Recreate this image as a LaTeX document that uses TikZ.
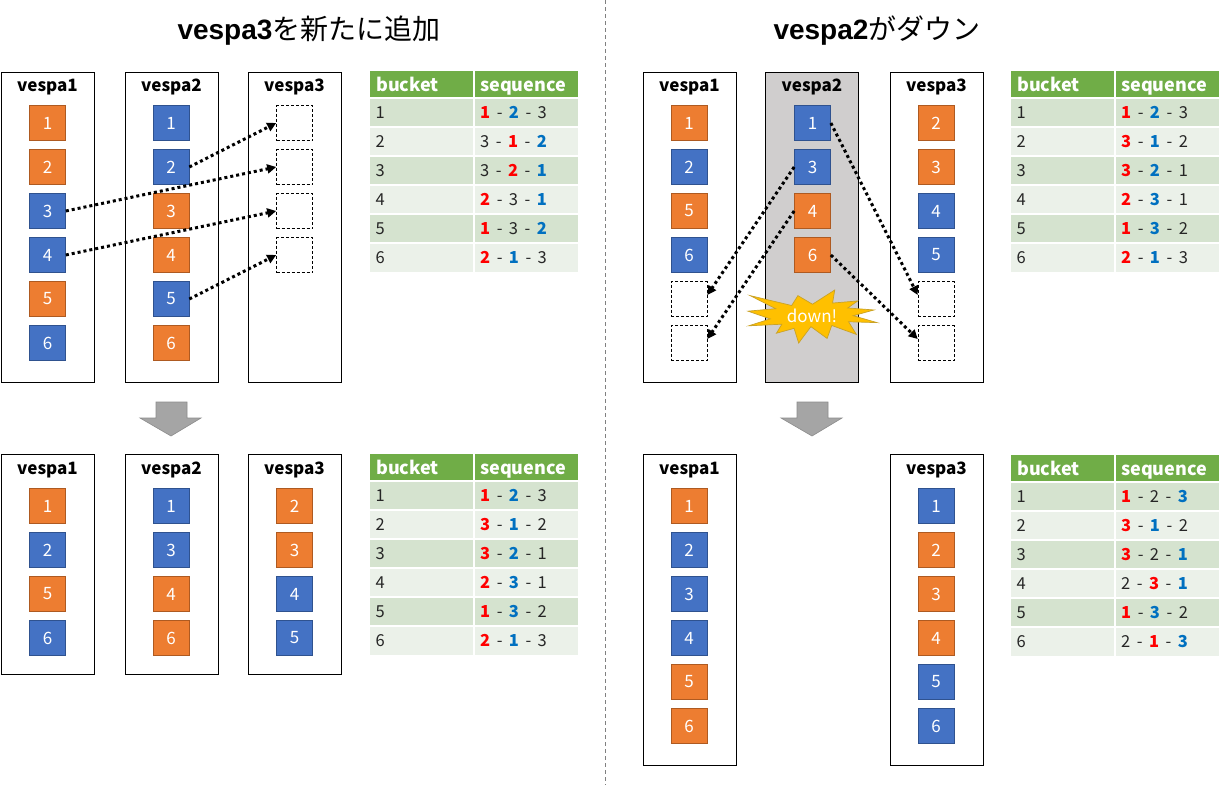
\documentclass[tikz,border=0pt]{standalone}
\usepackage{fontspec}
\setmainfont{Noto Sans CJK JP}
\newfontfamily\latbold{Liberation Sans}
\usetikzlibrary{arrows.meta,calc}
\definecolor{orfill}{HTML}{ED7D31}
\definecolor{ordraw}{HTML}{AE5A21}
\definecolor{blfill}{HTML}{4472C4}
\definecolor{bldraw}{HTML}{2F528F}
\definecolor{hdrgreen}{HTML}{70AD47}
\definecolor{rowdark}{HTML}{D5E3CF}
\definecolor{rowlight}{HTML}{EBF1E9}
\definecolor{seqred}{HTML}{FF0000}
\definecolor{seqblue}{HTML}{0070C0}
\definecolor{txtgray}{HTML}{262626}
\definecolor{downgray}{HTML}{D0CECE}
\definecolor{burstfill}{HTML}{FFC000}
\definecolor{burstdraw}{HTML}{C9A227}
\definecolor{bigarrow}{HTML}{A5A5A5}
\definecolor{bigarrowd}{HTML}{8C8C8C}
\newcommand\RD[1]{{\bfseries\color{seqred}#1}}
\newcommand\BL[1]{{\bfseries\color{seqblue}#1}}
\newcommand\DS{\hspace{6.5pt}-\hspace{6.5pt}}
\tikzset{
 server/.style={draw=black, line width=0.9pt, fill=white, minimum width=93pt, inner sep=0},
 srvlabel/.style={font=\fontsize{17}{17}\selectfont\bfseries, text=black, inner sep=0},
 sq/.style={minimum width=36pt, minimum height=35pt, inner sep=0, line width=0.7pt, text=white, font=\fontsize{17}{17}\selectfont},
 orsq/.style={sq, fill=orfill, draw=ordraw},
 blsq/.style={sq, fill=blfill, draw=bldraw},
 slotsq/.style={sq, fill=white, draw=black, line width=0.6pt, dash pattern=on 3pt off 2pt},
 mv/.style={draw=black, line width=3pt, dash pattern=on 3pt off 3pt, -{Triangle[length=9pt,width=9pt]}},
 hdrtxt/.style={font=\fontsize{18}{18}\selectfont\bfseries, text=white, inner sep=0},
 celltxt/.style={font=\fontsize{16.5}{17}\selectfont, text=txtgray, inner sep=0},
 titletxt/.style={font=\fontsize{28}{28}\selectfont, text=black, inner sep=0},
}
\newcommand\tabrow[4]{%
  \fill[#3] (0,{27+29*(#2-1)}) rectangle (208,{27+29*#2});
  \node[celltxt,anchor=base west] (#1b#2) at (5.5,{27+29*(#2-1)+20.5}) {#2};
  \node[celltxt,anchor=base west] (#1s#2) at (110,{27+29*(#2-1)+20.5}) {#4};}
\newcommand\seqtable[9]{%
 \begin{scope}[shift={(#2,#3)}]
  \fill[hdrgreen] (0,0) rectangle (208,27);
  \node[hdrtxt,anchor=base west] (#1hb) at (6,20) {bucket};
  \node[hdrtxt,anchor=base west] (#1hs) at (110,20) {sequence};
  \tabrow{#1}{1}{rowdark}{#4}
  \tabrow{#1}{2}{rowlight}{#5}
  \tabrow{#1}{3}{rowdark}{#6}
  \tabrow{#1}{4}{rowlight}{#7}
  \tabrow{#1}{5}{rowdark}{#8}
  \tabrow{#1}{6}{rowlight}{#9}
  \draw[white, line width=1.5pt] (104,0) -- (104,201);
  \foreach \k in {1,...,6} \draw[white, line width=1.2pt] (0,{27+29*(\k-1)}) -- (208,{27+29*(\k-1)});
 \end{scope}}
\begin{document}
\begin{tikzpicture}[x=1pt,y=-1pt]
\useasboundingbox (0,0) rectangle (1222,785);
\fill[white] (0,0) rectangle (1222,785);

% divider
\draw[gray, line width=0.8pt, dash pattern=on 4pt off 3pt] (605,0) -- (605,785);

% titles
\node[titletxt] (t1) at (309,31) {{\latbold\bfseries vespa3}を新たに追加};
\node[titletxt] (t2) at (877,31) {{\latbold\bfseries vespa2}がダウン};

% ===== Panel A (top left) =====
\node[server, minimum height=310pt] (A1) at (47.5,227) {};
\node[server, minimum height=310pt] (A2) at (171.5,227) {};
\node[server, minimum height=310pt] (A3) at (294.5,227) {};
\node[srvlabel] (A1l) at (47.5,87) {vespa1};
\node[srvlabel] (A2l) at (171.5,87) {vespa2};
\node[srvlabel] (A3l) at (294.5,87) {vespa3};
\node[orsq] (A1-1) at (47.5,123) {1};
\node[orsq] (A1-2) at (47.5,167) {2};
\node[blsq] (A1-3) at (47.5,211) {3};
\node[blsq] (A1-4) at (47.5,255) {4};
\node[orsq] (A1-5) at (47.5,299) {5};
\node[blsq] (A1-6) at (47.5,343) {6};
\node[blsq] (A2-1) at (171,123) {1};
\node[blsq] (A2-2) at (171,167) {2};
\node[orsq] (A2-3) at (171,211) {3};
\node[orsq] (A2-4) at (171,255) {4};
\node[blsq] (A2-5) at (171,299) {5};
\node[orsq] (A2-6) at (171,343) {6};
\node[slotsq] (A3-1) at (294.5,123) {};
\node[slotsq] (A3-2) at (294.5,167) {};
\node[slotsq] (A3-3) at (294.5,211) {};
\node[slotsq] (A3-4) at (294.5,255) {};
\draw[mv] (A2-2.east) -- (A3-1.west);
\draw[mv] (A1-3.east) -- (A3-2.west);
\draw[mv] (A1-4.east) -- (A3-3.west);
\draw[mv] (A2-5.east) -- (A3-4.west);

\seqtable{T1}{370}{71}{\RD{1}\DS\BL{2}\DS 3}{3\DS\RD{1}\DS\BL{2}}{3\DS\RD{2}\DS\BL{1}}{\RD{2}\DS 3\DS\BL{1}}{\RD{1}\DS 3\DS\BL{2}}{\RD{2}\DS\BL{1}\DS 3}

% big arrows
\filldraw[fill=bigarrow, draw=bigarrowd, line width=0.6pt] (156,402) -- (187,402) -- (187,418) -- (201,418) -- (171,436) -- (140,418) -- (156,418) -- cycle;
\filldraw[fill=bigarrow, draw=bigarrowd, line width=0.6pt] (797,402) -- (828,402) -- (828,418) -- (842,418) -- (812,436) -- (781,418) -- (797,418) -- cycle;

% ===== Panel C (bottom left) =====
\node[server, minimum height=220pt] (C1) at (47.5,564) {};
\node[server, minimum height=220pt] (C2) at (171.5,564) {};
\node[server, minimum height=220pt] (C3) at (294.5,564) {};
\node[srvlabel] (C1l) at (47.5,470) {vespa1};
\node[srvlabel] (C2l) at (171.5,470) {vespa2};
\node[srvlabel] (C3l) at (294.5,470) {vespa3};
\node[orsq] (C1-1) at (47.5,506) {1};
\node[blsq] (C1-2) at (47.5,550) {2};
\node[orsq] (C1-3) at (47.5,594) {5};
\node[blsq] (C1-4) at (47.5,638) {6};
\node[blsq] (C2-1) at (171,506) {1};
\node[blsq] (C2-2) at (171,550) {3};
\node[orsq] (C2-3) at (171,594) {4};
\node[orsq] (C2-4) at (171,638) {6};
\node[orsq] (C3-1) at (294.5,506) {2};
\node[orsq] (C3-2) at (294.5,550) {3};
\node[blsq] (C3-3) at (294.5,594) {4};
\node[blsq] (C3-4) at (294.5,638) {5};

\seqtable{T3}{370}{454}{\RD{1}\DS\BL{2}\DS 3}{\RD{3}\DS\BL{1}\DS 2}{\RD{3}\DS\BL{2}\DS 1}{\RD{2}\DS\BL{3}\DS 1}{\RD{1}\DS\BL{3}\DS 2}{\RD{2}\DS\BL{1}\DS 3}

% ===== Panel B (top right) =====
\node[server, minimum height=310pt] (B1) at (689.5,227) {};
\node[server, minimum height=310pt, fill=downgray] (B2) at (812,227) {};
\node[server, minimum height=310pt] (B3) at (936.5,227) {};
\node[srvlabel] (B1l) at (689.5,87) {vespa1};
\node[srvlabel] (B2l) at (812,87) {vespa2};
\node[srvlabel] (B3l) at (936.5,87) {vespa3};
\node[orsq] (B1-1) at (689,123) {1};
\node[blsq] (B1-2) at (689,167) {2};
\node[orsq] (B1-3) at (689,211) {5};
\node[blsq] (B1-4) at (689,255) {6};
\node[slotsq] (B1-5) at (689,299) {};
\node[slotsq] (B1-6) at (689,343) {};
\node[blsq] (B2-1) at (812.5,123) {1};
\node[blsq] (B2-2) at (812.5,167) {3};
\node[orsq] (B2-3) at (812.5,211) {4};
\node[orsq] (B2-4) at (812.5,255) {6};
\node[orsq] (B3-1) at (936,123) {2};
\node[orsq] (B3-2) at (936,167) {3};
\node[blsq] (B3-3) at (936,211) {4};
\node[blsq] (B3-4) at (936,255) {5};
\node[slotsq] (B3-5) at (936,299) {};
\node[slotsq] (B3-6) at (936,343) {};

% burst
\begin{scope}[shift={(748,290)}, x=0.5972pt, y=-0.24537pt]
\filldraw[fill=burstfill, draw=burstdraw, line width=0.7pt]
 (108,58) -- (145.22,0) -- (141.55,53.25) -- (183.8,44.57) -- (167.02,73.15) -- (210.97,81.37) -- (176.07,104.75) -- (216,132.9) -- (168.37,129.42) -- (181.45,180.95) -- (140.2,144.57) -- (132.47,197.37) -- (105.32,149.35) -- (84.85,216) -- (77.15,156.27) -- (47.62,176.17) -- (56.67,139.37) -- (1.35,145.87) -- (37.22,117.75) -- (0,86.15) -- (46.27,76.17) -- (3.7,22.95) -- (73.12,63.2) -- (83.52,22.95) -- cycle;
\end{scope}
\node[font=\fontsize{17}{17}\selectfont, text=white, inner sep=0] (down) at (812,316) {down!};

\draw[mv] (B2-2.west) -- ([yshift=4pt]B1-5.east);
\draw[mv] (B2-3.west) -- ([yshift=4pt]B1-6.east);
\draw[mv] (B2-1.east) -- ([yshift=4pt]B3-5.west);
\draw[mv] (B2-4.east) -- ([yshift=4pt]B3-6.west);

\seqtable{T2}{1011}{71}{\RD{1}\DS\BL{2}\DS 3}{\RD{3}\DS\BL{1}\DS 2}{\RD{3}\DS\BL{2}\DS 1}{\RD{2}\DS\BL{3}\DS 1}{\RD{1}\DS\BL{3}\DS 2}{\RD{2}\DS\BL{1}\DS 3}

% ===== Panel D (bottom right) =====
\node[server, minimum height=311pt] (D1) at (689.5,609.5) {};
\node[server, minimum height=311pt] (D3) at (936.5,609.5) {};
\node[srvlabel] (D1l) at (689.5,470) {vespa1};
\node[srvlabel] (D3l) at (936.5,470) {vespa3};
\node[orsq] (D1-1) at (689,506) {1};
\node[blsq] (D1-2) at (689,550) {2};
\node[blsq] (D1-3) at (689,594) {3};
\node[blsq] (D1-4) at (689,638) {4};
\node[orsq] (D1-5) at (689,682) {5};
\node[orsq] (D1-6) at (689,726) {6};
\node[blsq] (D3-1) at (936,506) {1};
\node[orsq] (D3-2) at (936,550) {2};
\node[orsq] (D3-3) at (936,594) {3};
\node[orsq] (D3-4) at (936,638) {4};
\node[blsq] (D3-5) at (936,682) {5};
\node[blsq] (D3-6) at (936,726) {6};

\seqtable{T4}{1011}{455}{\RD{1}\DS 2\DS\BL{3}}{\RD{3}\DS\BL{1}\DS 2}{\RD{3}\DS 2\DS\BL{1}}{2\DS\RD{3}\DS\BL{1}}{\RD{1}\DS\BL{3}\DS 2}{2\DS\RD{1}\DS\BL{3}}
\end{tikzpicture}
\end{document}
